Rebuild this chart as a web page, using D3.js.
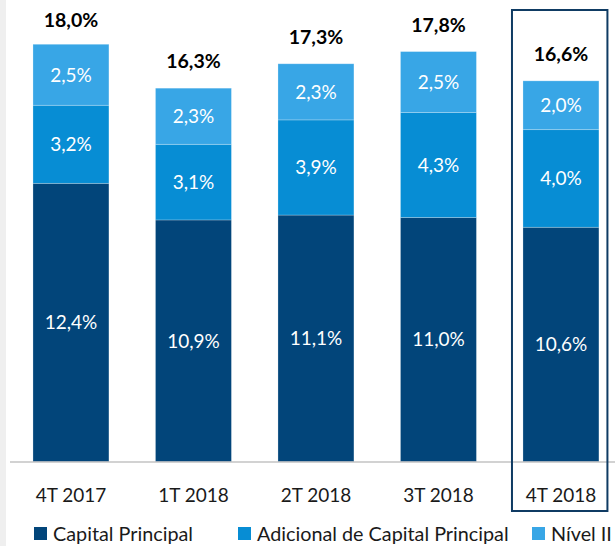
<!DOCTYPE html>
<html>
<head>
<meta charset="utf-8">
<script src="https://cdn.jsdelivr.net/npm/d3@7"></script>
<style>
  body { margin: 0; background: #fff; }
  svg { display: block; font-family: Lato, "Open Sans", sans-serif; }
</style>
</head>
<body>
<svg width="615" height="546"></svg>
<script>
const categories = ["4T 2017", "1T 2018", "2T 2018", "3T 2018", "4T 2018"]
const capitalPrincipal = [12.4, 10.9, 11.1, 11.0, 10.6]
const adicionalCapital = [3.2, 3.1, 3.9, 4.3, 4.0]
const nivelII = [2.5, 2.3, 2.3, 2.5, 2.0]
const totals = [18.0, 16.3, 17.3, 17.8, 16.6]
const seriesNames = ["Capital Principal", "Adicional de Capital Principal", "Nível II"]
const highlighted = "4T 2018"

const svg = d3.select("svg")
const width = +svg.attr("width")
const height = +svg.attr("height")

const colors = ["#02457a", "#078dd4", "#38a6e6"]
const keys = ["cp", "ad", "n2"]

const data = categories.map((c, i) => ({
  cat: c, cp: capitalPrincipal[i], ad: adicionalCapital[i], n2: nivelII[i], total: totals[i]
}))

const locale = d3.formatLocale({decimal: ",", thousands: ".", grouping: [3], currency: ["R$", ""]})
const fmt = v => locale.format(".1f")(v) + "%"

const baseline = 461.5
const xScale = d3.scaleBand()
  .domain(categories)
  .range([9.7, 622.2])
  .paddingInner(0.38)
  .paddingOuter(0.19)

// the value axis of the original starts near 1%, not 0
const yScale = d3.scaleLinear()
  .domain([1, 19])
  .range([baseline, baseline - 18 * 24.4])
  .clamp(true)

const stacked = d3.stack().keys(keys)(data)

// grey strip on the left edge
svg.append("rect")
  .attr("x", 0).attr("y", 0)
  .attr("width", 6).attr("height", height)
  .attr("fill", "#efefef")

const layers = svg.selectAll("g.layer").data(stacked)
  .enter().append("g")
  .attr("class", "layer")
  .attr("fill", (d, i) => colors[i])

layers.selectAll("rect").data(d => d)
  .enter().append("rect")
  .attr("x", d => xScale(d.data.cat))
  .attr("width", xScale.bandwidth())
  .attr("y", d => yScale(d[1]))
  .attr("height", d => yScale(d[0]) - yScale(d[1]))
  .attr("stroke", "#ffffff")
  .attr("stroke-opacity", 0.3)
  .attr("stroke-width", 0.8)

layers.selectAll("text").data(d => d)
  .enter().append("text")
  .attr("x", d => xScale(d.data.cat) + xScale.bandwidth() / 2)
  .attr("y", d => (yScale(d[0]) + yScale(d[1])) / 2)
  .attr("dy", "0.36em")
  .attr("text-anchor", "middle")
  .attr("fill", "#ffffff")
  .attr("font-size", 19)
  .text(d => fmt(d[1] - d[0]))

// totals
svg.selectAll("text.total").data(data)
  .enter().append("text")
  .attr("class", "total")
  .attr("x", d => xScale(d.cat) + xScale.bandwidth() / 2)
  .attr("y", d => yScale(d.total) - 20)
  .attr("text-anchor", "middle")
  .attr("font-size", 19.5)
  .attr("font-weight", "bold")
  .attr("fill", "#000")
  .text(d => fmt(d.total))

// x axis
const xAxis = d3.axisBottom(xScale).tickSize(0).tickPadding(27)
const xAxisG = svg.append("g")
  .attr("transform", `translate(0, ${baseline})`)
  .call(xAxis)
xAxisG.select(".domain")
  .attr("d", `M10,0.5H${width}`)
  .attr("stroke", "#a6a6a6")
  .attr("stroke-width", 1.2)
xAxisG.selectAll("text")
  .attr("font-family", "Lato, sans-serif")
  .attr("font-size", 19)
  .attr("fill", "#1a1a1a")

// highlight frame around last quarter
svg.append("rect")
  .attr("x", xScale(highlighted) - 11)
  .attr("y", 10)
  .attr("width", xScale.bandwidth() + 19.5)
  .attr("height", 501)
  .attr("fill", "none")
  .attr("stroke", "#0f3b63")
  .attr("stroke-width", 2)

// legend
const legendX = [34, 238, 532]
const legend = svg.selectAll("g.legend").data(seriesNames)
  .enter().append("g")
  .attr("class", "legend")
  .attr("transform", (d, i) => `translate(${legendX[i]}, 527)`)
legend.append("rect")
  .attr("width", 13).attr("height", 13)
  .attr("fill", (d, i) => colors[i])
legend.append("text")
  .attr("x", 19)
  .attr("y", 6.5)
  .attr("dy", "0.36em")
  .attr("font-size", 19.8)
  .attr("fill", "#1a1a1a")
  .text(d => d)
</script>
</body>
</html>
